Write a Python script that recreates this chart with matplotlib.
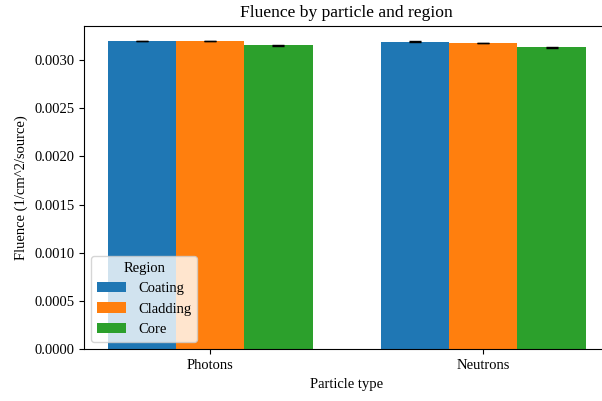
import matplotlib
matplotlib.use("Agg")
import matplotlib.pyplot as plt
import numpy as np

plt.rcParams['font.family'] = ['Liberation Serif', 'DejaVu Serif']
plt.rcParams['font.size'] = 10.5

particles = ["Photons", "Neutrons"]
regions = ["Coating", "Cladding", "Core"]
fluence = {
    "Coating": [0.003194, 0.003188],
    "Cladding": [0.003193, 0.003174],
    "Core": [0.003150, 0.003133],
}
errors = {
    "Coating": [1.0e-6, 3.0e-6],
    "Cladding": [1.0e-6, 3.0e-6],
    "Core": [3.0e-6, 5.0e-6],
}

x = np.arange(len(particles))
width = 0.25

fig, ax = plt.subplots(figsize=(6.02, 4.01), dpi=100)
# the original was cropped on the right, so the axes run past the figure edge
fig.subplots_adjust(left=0.1395, right=1.0125, top=0.936, bottom=0.129)

for i, reg in enumerate(regions):
    ax.bar(x + (i - 1) * width, fluence[reg], width, yerr=errors[reg],
           capsize=4, label=reg)

ax.set_xticks(x)
ax.set_xticklabels(particles)
ax.set_xlabel("Particle type")
ax.set_ylabel("Fluence (1/cm^2/source)")
ax.set_title("Fluence by particle and region")
ax.legend(title="Region", loc="lower left")

fig.savefig("out.png", dpi=100)
